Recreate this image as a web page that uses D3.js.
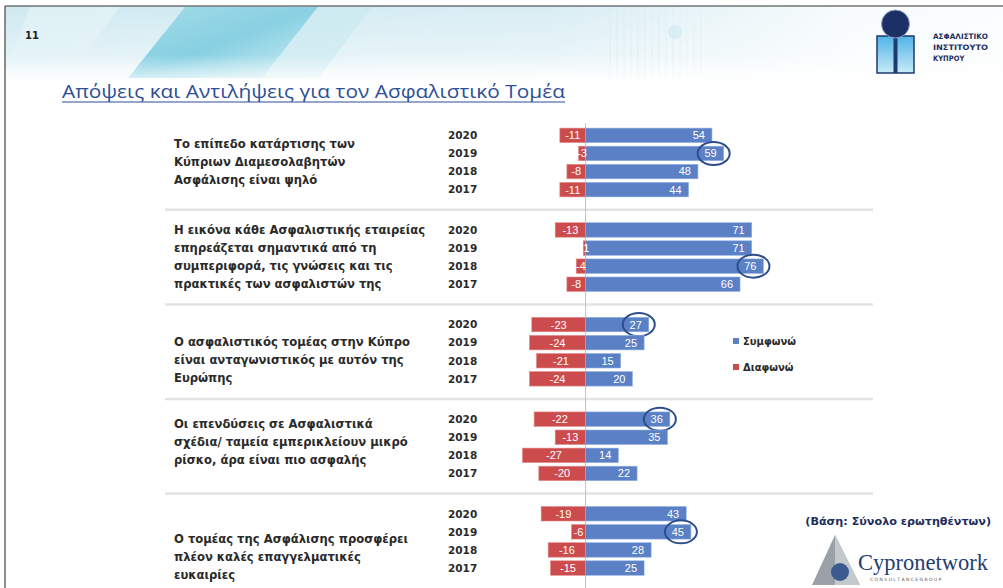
<!DOCTYPE html>
<html>
<head>
<meta charset="utf-8">
<script src="https://cdn.jsdelivr.net/npm/d3@7"></script>
<style>
  html, body { margin: 0; padding: 0; background: #fff; }
  svg { display: block; }
</style>
</head>
<body>
<div id="chart"></div>
<script>
// ---------- DATA ----------
const questions = [
  ["Το επίπεδο κατάρτισης των", "Κύπριων Διαμεσολαβητών", "Ασφάλισης είναι ψηλό"],
  ["Η εικόνα κάθε Ασφαλιστικής εταιρείας", "επηρεάζεται σημαντικά από τη", "συμπεριφορά, τις γνώσεις και τις", "πρακτικές των ασφαλιστών της"],
  ["Ο ασφαλιστικός τομέας στην Κύπρο", "είναι ανταγωνιστικός με αυτόν της", "Ευρώπης"],
  ["Οι επενδύσεις σε Ασφαλιστικά", "σχέδια/ ταμεία εμπερικλείουν μικρό", "ρίσκο, άρα είναι πιο ασφαλής"],
  ["Ο τομέας της Ασφάλισης προσφέρει", "πλέον καλές επαγγελματικές", "ευκαιρίες"]
];
const years = ["2020", "2019", "2018", "2017"];
const agree = [
  [54, 59, 48, 44],
  [71, 71, 76, 66],
  [27, 25, 15, 20],
  [36, 35, 14, 22],
  [43, 45, 28, 25]
];
const disagree = [
  [-11, -3, -8, -11],
  [-13, -1, -4, -8],
  [-23, -24, -21, -24],
  [-22, -13, -27, -20],
  [-19, -6, -16, -15]
];
// which agree value is circled in each question (index into years)
const circled = [1, 2, 0, 0, 1];
const seriesNames = ["Συμφωνώ", "Διαφωνώ"];
const titleText = "Απόψεις και Αντιλήψεις για τον Ασφαλιστικό Τομέα";
const baseNote = "(Βάση: Σύνολο ερωτηθέντων)";

// ---------- LAYOUT ----------
const W = 1003, H = 588;
const BLUE = "#5b80c6", RED = "#cc4c4d";
const labelNudge = [-1, 0, 8, -4, 16];

const svg = d3.select("#chart").append("svg")
  .attr("width", W).attr("height", H);

const defs = svg.append("defs");
const hg = defs.append("linearGradient").attr("id", "hdr").attr("x1", 0).attr("y1", 0).attr("x2", 0).attr("y2", 1);
hg.append("stop").attr("offset", "0%").attr("stop-color", "#cfe9f1");
hg.append("stop").attr("offset", "70%").attr("stop-color", "#e6f4f8");
hg.append("stop").attr("offset", "100%").attr("stop-color", "#ffffff");
const hg2 = defs.append("linearGradient").attr("id", "hdrFade").attr("x1", 0).attr("y1", 0).attr("x2", 1).attr("y2", 0);
hg2.append("stop").attr("offset", "0%").attr("stop-color", "#fff").attr("stop-opacity", 0);
hg2.append("stop").attr("offset", "55%").attr("stop-color", "#fff").attr("stop-opacity", 0.2);
hg2.append("stop").attr("offset", "85%").attr("stop-color", "#fff").attr("stop-opacity", 0.85);
hg2.append("stop").attr("offset", "100%").attr("stop-color", "#fff").attr("stop-opacity", 0.9);
const pg = defs.append("linearGradient").attr("id", "para").attr("x1", 0).attr("y1", 0).attr("x2", 1).attr("y2", 1);
pg.append("stop").attr("offset", "0%").attr("stop-color", "#9ad8e6");
pg.append("stop").attr("offset", "50%").attr("stop-color", "#6cc6dc");
pg.append("stop").attr("offset", "100%").attr("stop-color", "#c4e9f1");
const vg = defs.append("linearGradient").attr("id", "vfade").attr("x1", 0).attr("y1", 0).attr("x2", 0).attr("y2", 1);
vg.append("stop").attr("offset", "0%").attr("stop-color", "#fff").attr("stop-opacity", 0);
vg.append("stop").attr("offset", "100%").attr("stop-color", "#fff").attr("stop-opacity", 1);
const lg = defs.append("linearGradient").attr("id", "logoBox").attr("x1", 0).attr("y1", 0).attr("x2", 0).attr("y2", 1);
lg.append("stop").attr("offset", "0%").attr("stop-color", "#4fb3e6");
lg.append("stop").attr("offset", "100%").attr("stop-color", "#c9ebf8");

// ---------- HEADER DECORATION ----------
const hdr = svg.append("g");
hdr.append("rect").attr("x", 5).attr("y", 6).attr("width", W - 5).attr("height", 82).attr("fill", "url(#hdr)");
hdr.append("polygon").attr("points", "185,7 318,7 262,78 128,78").attr("fill", "url(#para)").attr("opacity", 0.85);
hdr.append("polygon").attr("points", "318,7 372,7 318,78 262,78").attr("fill", "#bfe6ef").attr("opacity", 0.6);
hdr.append("polygon").attr("points", "30,7 120,7 80,60 10,60").attr("fill", "#e4f3f7").attr("opacity", 0.7);
for (let i = 0; i < 14; i++) {
  hdr.append("line").attr("x1", 610 + i * 7).attr("x2", 610 + i * 7)
    .attr("y1", 7).attr("y2", 80).attr("stroke", "#c9dde4").attr("stroke-width", 1).attr("opacity", 0.6);
}
hdr.append("circle").attr("cx", 675).attr("cy", 32).attr("r", 7).attr("fill", "#aed9ea").attr("opacity", 0.8);
hdr.append("rect").attr("x", 5).attr("y", 6).attr("width", W - 5).attr("height", 82).attr("fill", "url(#hdrFade)");
hdr.append("rect").attr("x", 5).attr("y", 55).attr("width", W - 5).attr("height", 35).attr("fill", "url(#vfade)");

// frame
svg.append("line").attr("x1", 5).attr("x2", W).attr("y1", 6).attr("y2", 6).attr("stroke", "#333").attr("stroke-width", 1.2);
svg.append("line").attr("x1", 5).attr("x2", 5).attr("y1", 6).attr("y2", H).attr("stroke", "#444").attr("stroke-width", 1.2);

// slide number
svg.append("text").attr("x", 25).attr("y", 39).text("11")
  .attr("font-family", "DejaVu Sans").attr("font-weight", "bold").attr("font-size", 10).attr("fill", "#222");

// logo top-right
const logo = svg.append("g");
logo.append("rect").attr("x", 877).attr("y", 36).attr("width", 37).attr("height", 37)
  .attr("fill", "url(#logoBox)").attr("stroke", "#1f3a6e").attr("stroke-width", 1.5);
logo.append("rect").attr("x", 893.5).attr("y", 36).attr("width", 4).attr("height", 37).attr("fill", "#1f3a6e");
logo.append("circle").attr("cx", 895.5).attr("cy", 24).attr("r", 14).attr("fill", "#1c2f66").attr("stroke", "#8fa4c9").attr("stroke-width", 1);
["ΑΣΦΑΛΙΣΤΙΚΟ", "ΙΝΣΤΙΤΟΥΤΟ", "ΚΥΠΡΟΥ"].forEach((t, i) => {
  const tx = logo.append("text").attr("x", 933).attr("y", 39 + i * 11).text(t)
    .attr("font-family", "DejaVu Sans Condensed, DejaVu Sans").attr("font-weight", "bold")
    .attr("font-size", 7.5).attr("fill", "#1f2f5e");
  if (i < 2) tx.attr("textLength", 55).attr("lengthAdjust", "spacingAndGlyphs");
});

// title
svg.append("text").attr("x", 62).attr("y", 98).text(titleText)
  .attr("font-family", "Open Sans").attr("font-size", 19).attr("fill", "#2e4f95")
  .attr("textLength", 503).attr("lengthAdjust", "spacingAndGlyphs");
svg.append("line").attr("x1", 62).attr("x2", 565).attr("y1", 102).attr("y2", 102)
  .attr("stroke", "#2e4f95").attr("stroke-width", 1);

// ---------- SCALES ----------
const step = 94.6, padIn = 0.1966;
const yGroup = d3.scaleBand().domain(d3.range(questions.length))
  .range([115.2, 115.2 + step * questions.length])
  .paddingInner(padIn).paddingOuter(padIn / 2);
const yYear = d3.scaleBand().domain(years).range([0, yGroup.bandwidth()]).padding(0.2);
const x = d3.scaleLinear().domain([-30, 80]).range([515.4, 772.8]);

// separators
const sepY = d3.range(1, questions.length).map(g => yGroup(g) - yGroup.step() * padIn / 2);
svg.append("g").selectAll("line").data(sepY).join("line")
  .attr("x1", 165).attr("x2", 873).attr("y1", d => d).attr("y2", d => d)
  .attr("stroke", "#e3e3e3").attr("stroke-width", 2.5);

// zero line
svg.append("line").attr("x1", x(0)).attr("x2", x(0)).attr("y1", 123).attr("y2", 588)
  .attr("stroke", "#e8b3a6").attr("stroke-width", 1);

// ---------- ROWS ----------
const rows = [];
questions.forEach((q, g) => years.forEach((yr, i) => rows.push({ g, i, yr, a: agree[g][i], d: disagree[g][i] })));

const rowG = svg.append("g").selectAll("g").data(rows).join("g")
  .attr("transform", r => `translate(0,${yGroup(r.g) + yYear(r.yr)})`);
const bh = yYear.bandwidth();

rowG.append("rect").attr("x", r => x(r.d)).attr("width", r => x(0) - x(r.d))
  .attr("y", 0).attr("height", bh).attr("fill", RED)
  .attr("stroke", "#e58a8a").attr("stroke-width", 0.6);
rowG.append("rect").attr("x", x(0)).attr("width", r => x(r.a) - x(0))
  .attr("y", 0).attr("height", bh).attr("fill", BLUE)
  .attr("stroke", "#8fb0e3").attr("stroke-width", 0.6);

rowG.append("text").attr("x", r => (x(r.d) + x(0)) / 2).attr("y", bh / 2).attr("dy", "0.36em")
  .attr("text-anchor", "middle").text(r => r.d)
  .attr("font-family", "Liberation Sans").attr("font-size", 11).attr("fill", "#fff");
rowG.append("text").attr("x", r => x(r.a) - 7).attr("y", bh / 2).attr("dy", "0.36em")
  .attr("text-anchor", "end").text(r => r.a)
  .attr("font-family", "Liberation Sans").attr("font-size", 11).attr("fill", "#fff");

// year labels
rowG.append("text").attr("x", 448).attr("y", bh / 2).attr("dy", "0.36em").text(r => r.yr)
  .attr("font-family", "DejaVu Sans").attr("font-weight", "bold").attr("font-size", 10.5).attr("fill", "#2a2a2a");

// circles
rowG.filter(r => circled[r.g] === r.i).append("ellipse")
  .attr("cx", r => x(r.a) - 10).attr("cy", bh / 2).attr("rx", 16).attr("ry", 11.5)
  .attr("fill", "none").attr("stroke", "#2d4d8c").attr("stroke-width", 2);

// question labels
const qG = svg.append("g").selectAll("text").data(questions).join("text")
  .attr("font-family", "DejaVu Sans").attr("font-weight", "bold").attr("font-size", 11.6).attr("fill", "#2a2a2a");
qG.each(function (lines, g) {
  const cy = yGroup(g) + yGroup.bandwidth() / 2 + labelNudge[g];
  const lh = 18;
  const y0 = cy - (lines.length - 1) * lh / 2;
  d3.select(this).selectAll("tspan").data(lines).join("tspan")
    .attr("x", 174).attr("y", (d, k) => y0 + k * lh).attr("dy", "0.35em").text(d => d);
});

// ---------- LEGEND ----------
const leg = svg.append("g").selectAll("g").data(seriesNames).join("g")
  .attr("transform", (d, i) => `translate(733,${341 + i * 26})`);
leg.append("rect").attr("x", 0).attr("y", -3).attr("width", 6).attr("height", 6)
  .attr("fill", (d, i) => i === 0 ? BLUE : RED);
leg.append("text").attr("x", 10).attr("dy", "0.35em").text(d => d)
  .attr("font-family", "DejaVu Sans").attr("font-weight", "bold").attr("font-size", 10).attr("fill", "#2a2a2a");

// ---------- FOOTER ----------
svg.append("text").attr("x", 991).attr("y", 521).attr("dy", "0.35em").attr("text-anchor", "end").text(baseNote)
  .attr("font-family", "DejaVu Sans").attr("font-weight", "bold").attr("font-size", 11.2).attr("fill", "#1e2d5c");

const cn = svg.append("g");
cn.append("polygon").attr("points", "835,535 812,585 860,585").attr("fill", "#9aa1a8");
cn.append("polygon").attr("points", "835,535 835,585 860,585").attr("fill", "#c4c9ce");
cn.append("circle").attr("cx", 840).attr("cy", 572).attr("r", 9).attr("fill", "#3c5a8e");
cn.append("text").attr("x", 858).attr("y", 570).text("Cypronetwork")
  .attr("font-family", "Liberation Serif").attr("font-size", 24).attr("fill", "#253d73")
  .attr("textLength", 130).attr("lengthAdjust", "spacingAndGlyphs");
cn.append("text").attr("x", 870).attr("y", 581).text("C O N S U L T A N C E   G R O U P")
  .attr("font-family", "DejaVu Sans").attr("font-size", 4.5).attr("fill", "#555");
</script>
</body>
</html>
